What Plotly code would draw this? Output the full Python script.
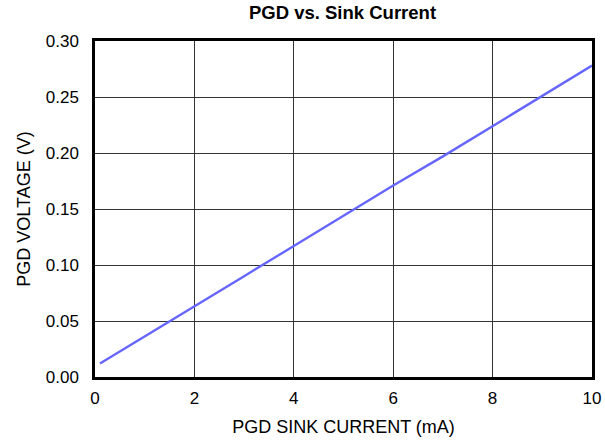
import plotly.graph_objects as go

sink_current_ma = [0.1, 1, 2, 3, 4, 5, 6, 7, 8, 9, 10]
pgd_voltage_v = [0.012, 0.036, 0.063, 0.090, 0.117, 0.144, 0.171, 0.197, 0.224, 0.251, 0.278]
x_ticks = [0, 2, 4, 6, 8, 10]
x_tick_text = ["0", "2", "4", "6", "8", "10"]
y_ticks = [0, 0.05, 0.10, 0.15, 0.20, 0.25, 0.30]
y_tick_text = ["0.00", "0.05", "0.10", "0.15", "0.20", "0.25", "0.30"]

fig = go.Figure()
fig.add_trace(go.Scatter(x=sink_current_ma, y=pgd_voltage_v, mode="lines",
                         line=dict(color="#6666ff", width=2.4), showlegend=False))

font = "Liberation Sans, Arial, sans-serif"
W, H = 605, 444
fig.update_layout(
    width=W, height=H,
    margin=dict(l=95, r=13, t=41, b=67, autoexpand=False),
    paper_bgcolor="white", plot_bgcolor="white",
    font=dict(family=font, size=17, color="black"),
    title=dict(text="<b>PGD vs. Sink Current</b>", x=342.5 / W, xanchor="center",
               y=1 - 13 / H, yanchor="middle", font=dict(size=18.5, family=font, color="black")),
)
fig.update_xaxes(range=[0, 10], tickvals=x_ticks, ticktext=x_tick_text,
                 tickfont=dict(size=17, family=font), ticklabelstandoff=4,
                 automargin=False,
                 showgrid=True, gridcolor="#333333", gridwidth=1,
                 showline=True, linecolor="black", linewidth=2.5, mirror=True,
                 ticks="", zeroline=False,
                 title=dict(text="PGD SINK CURRENT (mA)", standoff=14, font=dict(size=18, family=font)))
fig.update_yaxes(range=[0, 0.30], tickvals=y_ticks, ticktext=y_tick_text,
                 tickfont=dict(size=17, family=font), ticklabelstandoff=10,
                 automargin=False,
                 showgrid=True, gridcolor="#333333", gridwidth=1,
                 showline=True, linecolor="black", linewidth=2.5, mirror=True,
                 ticks="", zeroline=False,
                 title=dict(text="PGD VOLTAGE (V)", standoff=11, font=dict(size=18, family=font)))

fig.write_html("out.html", config={"displayModeBar": False},
               post_script="document.body.style.margin='0';")
